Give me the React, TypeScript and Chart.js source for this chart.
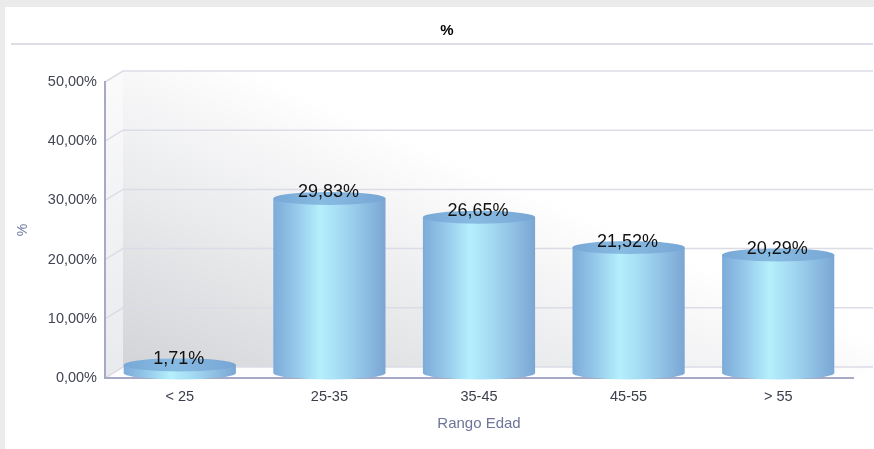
import React, { useEffect, useRef } from 'react';
import { Chart, registerables } from 'chart.js';

Chart.register(...registerables);

const categories = ['< 25', '25-35', '35-45', '45-55', '> 55'];
const values = [1.71, 29.83, 26.65, 21.52, 20.29];
const valueLabels = ['1,71%', '29,83%', '26,65%', '21,52%', '20,29%'];
const yTickValues = [0, 10, 20, 30, 40, 50];
const yTickLabels = ['0,00%', '10,00%', '20,00%', '30,00%', '40,00%', '50,00%'];
const chartTitle = '%';
const yAxisTitle = '%';
const xAxisTitle = 'Rango Edad';

const FONT = '"Liberation Sans", Arial, Helvetica, sans-serif';
const DX = 18;
const DY = 11;

const scenePlugin = {
  id: 'scene3d',
  beforeDraw(chart: any) {
    const ctx = chart.ctx as CanvasRenderingContext2D;
    const W = chart.width;
    const H = chart.height;
    ctx.save();
    ctx.fillStyle = '#ebebeb';
    ctx.fillRect(0, 0, W, H);
    ctx.fillStyle = '#ffffff';
    ctx.fillRect(5, 7, W - 5, H - 7);

    ctx.fillStyle = '#000000';
    ctx.font = 'bold 15px ' + FONT;
    ctx.textAlign = 'center';
    ctx.textBaseline = 'middle';
    ctx.fillText(chartTitle, 447, 31);

    ctx.fillStyle = '#dddce7';
    ctx.fillRect(11, 43, W - 12, 2);

    const { left, right, top, bottom } = chart.chartArea;
    const ys = chart.scales.y;
    const wallRight = W - 1;

    // back wall
    const g = ctx.createLinearGradient(left + DX, bottom - DY, left + 145, top - DY);
    g.addColorStop(0, '#d2d4d7');
    g.addColorStop(0.5, '#e9eaec');
    g.addColorStop(0.85, '#f8f8f9');
    g.addColorStop(1, '#ffffff');
    ctx.fillStyle = g;
    ctx.fillRect(left + DX, top - DY, wallRight - (left + DX), bottom - top);

    // left wall
    const gl = ctx.createLinearGradient(0, top, 0, bottom);
    gl.addColorStop(0, '#fafafb');
    gl.addColorStop(1, '#e9eaee');
    ctx.fillStyle = gl;
    ctx.beginPath();
    ctx.moveTo(left, top);
    ctx.lineTo(left + DX, top - DY);
    ctx.lineTo(left + DX, bottom - DY);
    ctx.lineTo(left, bottom);
    ctx.closePath();
    ctx.fill();

    // floor
    ctx.fillStyle = '#fdfdfe';
    ctx.beginPath();
    ctx.moveTo(left, bottom);
    ctx.lineTo(left + DX, bottom - DY);
    ctx.lineTo(wallRight, bottom - DY);
    ctx.lineTo(right, bottom);
    ctx.closePath();
    ctx.fill();

    // grid lines
    ctx.strokeStyle = '#dcdce7';
    ctx.lineWidth = 1.5;
    yTickValues.forEach((v) => {
      const py = ys.getPixelForValue(v);
      ctx.beginPath();
      ctx.moveTo(left, py);
      ctx.lineTo(left + DX, py - DY);
      ctx.lineTo(wallRight, py - DY);
      ctx.stroke();
    });
    ctx.restore();
  },
  afterDatasetsDraw(chart: any) {
    const ctx = chart.ctx as CanvasRenderingContext2D;
    const meta = chart.getDatasetMeta(0);
    ctx.save();
    meta.data.forEach((el: any, i: number) => {
      const p = el.getProps(['x', 'y', 'base', 'width'], true);
      const x = p.x;
      const rx = p.width / 2;
      const ry = 6.5;
      const yT = p.y - 3;
      const yB = p.base - 5;
      const lx = x - rx;
      const rgt = x + rx;

      const gb = ctx.createLinearGradient(lx, 0, rgt, 0);
      gb.addColorStop(0, '#7cabd8');
      gb.addColorStop(0.2, '#95c8ea');
      gb.addColorStop(0.42, '#b5effc');
      gb.addColorStop(0.62, '#a3d9f2');
      gb.addColorStop(1, '#7ba6d4');
      ctx.fillStyle = gb;
      ctx.beginPath();
      ctx.moveTo(lx, yT);
      ctx.lineTo(lx, yB);
      ctx.ellipse(x, yB, rx, ry, 0, Math.PI, 0, true);
      ctx.lineTo(rgt, yT);
      ctx.closePath();
      ctx.fill();

      const gt = ctx.createLinearGradient(lx, 0, rgt, 0);
      gt.addColorStop(0, '#77a8d7');
      gt.addColorStop(0.45, '#88bbe2');
      gt.addColorStop(1, '#77a6d5');
      ctx.fillStyle = gt;
      ctx.beginPath();
      ctx.ellipse(x, yT, rx, ry, 0, 0, Math.PI * 2);
      ctx.fill();

      ctx.fillStyle = '#111111';
      ctx.font = '18px ' + FONT;
      ctx.textAlign = 'center';
      ctx.textBaseline = 'alphabetic';
      ctx.fillText(valueLabels[i], x - 1, p.y - 4);
    });
    ctx.restore();
  },
};

export default function App() {
  const ref = useRef<HTMLCanvasElement | null>(null);

  useEffect(() => {
    if (!ref.current) return;
    Chart.defaults.font.family = FONT;
    const chart = new Chart(ref.current, {
      type: 'bar',
      data: {
        labels: categories,
        datasets: [
          {
            data: values,
            backgroundColor: 'rgba(0,0,0,0)',
            borderWidth: 0,
            barPercentage: 0.75,
            categoryPercentage: 1,
          },
        ],
      },
      options: {
        responsive: false,
        animation: false,
        layout: { padding: { left: 0, right: 21, top: 82, bottom: 0 } },
        plugins: {
          legend: { display: false },
          tooltip: { enabled: false },
          title: { display: false },
        },
        scales: {
          x: {
            type: 'category',
            grid: { display: false, drawTicks: false },
            border: { display: true, color: '#a7a9c6', width: 2 },
            ticks: { padding: 10, color: '#3b3e4c', font: { size: 14.5, family: FONT } },
            title: {
              display: true,
              text: xAxisTitle,
              color: '#6e7599',
              font: { size: 15, family: FONT },
              padding: { top: 0, bottom: 16 },
            },
            afterFit(s: any) {
              s.height = 71;
            },
          },
          y: {
            min: 0,
            max: 50,
            ticks: {
              stepSize: 10,
              padding: 8,
              color: '#424553',
              font: { size: 14.5, family: FONT },
              callback: (v: any) => {
                const idx = yTickValues.indexOf(Number(v));
                return idx >= 0 ? yTickLabels[idx] : '';
              },
            },
            grid: { display: false, drawTicks: false },
            border: { display: true, color: '#a7a9c6', width: 2 },
            title: {
              display: true,
              text: yAxisTitle,
              color: '#7178a0',
              font: { size: 14, family: FONT },
              padding: { top: 15, bottom: 0 },
            },
            afterFit(s: any) {
              s.width = 105;
            },
          },
        },
      },
      plugins: [scenePlugin],
    } as any);
    return () => chart.destroy();
  }, []);

  return (
    <div style={{ position: 'fixed', left: 0, top: 0, width: 874, height: 449 }}>
      <canvas ref={ref} width={874} height={449} style={{ display: 'block', width: 874, height: 449 }} />
    </div>
  );
}
